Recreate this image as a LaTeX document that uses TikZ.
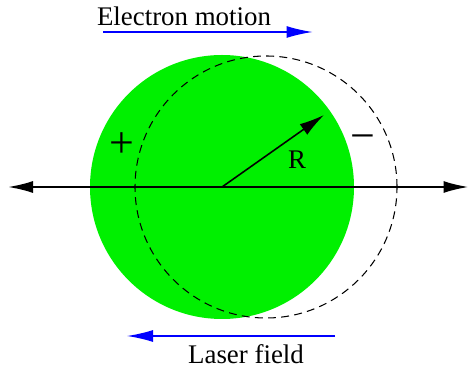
\documentclass[tikz,border=0pt]{standalone}
\usepackage{fontspec}
\newfontfamily\figfont{LiberationSerif}[Extension=.ttf,UprightFont=*-Regular]
\usetikzlibrary{arrows.meta}
\definecolor{ballgreen}{RGB}{0,240,0}
\begin{document}
\begin{tikzpicture}[x=1cm,y=1cm,font=\figfont\fontsize{15.3}{18}\selectfont,
  axis/.style={line width=1.1pt,{Latex[length=5mm,width=2.4mm]}-{Latex[length=5mm,width=2.4mm]}},
  radius/.style={line width=0.9pt,-{Latex[length=5mm,width=2.6mm]}},
  flow/.style={blue,line width=0.8pt,-{Latex[length=5.2mm,width=2.4mm]}},
  shifted/.style={dashed,line width=0.6pt,dash pattern=on 4.5pt off 3pt},
  charge/.style={font=\figfont\fontsize{25}{28}\selectfont,inner sep=0pt}]
\useasboundingbox (0,0) rectangle (9.38,7.42);
\coordinate (O) at (4.44,3.68);
\coordinate (S) at (5.32,3.68);
% ion background and displaced electron cloud
\fill[ballgreen] (O) circle (2.64);
\draw[shifted] (S) circle (2.62);
% x axis
\coordinate (W) at (0.16,3.68);
\coordinate (E) at (9.37,3.68);
\draw[axis] (W) -- (E);
% radius
\coordinate (Rtip) at (6.48,5.12);
\draw[radius] (O) -- (Rtip);
\node (R) at (5.94,4.22) {R};
\node[charge] (plus) at (2.44,4.52) {+};
\node[charge] (minus) at (7.26,4.56) {−};
% directions
\node (emlab) at (3.68,7.10) {Electron motion};
\coordinate (em0) at (2.06,6.78);
\coordinate (em1) at (6.25,6.78);
\draw[flow] (em0) -- (em1);
\coordinate (lf0) at (6.70,0.70);
\coordinate (lf1) at (2.54,0.70);
\draw[flow] (lf0) -- (lf1);
\node (lflab) at (4.92,0.34) {Laser field};
\end{tikzpicture}
\end{document}
